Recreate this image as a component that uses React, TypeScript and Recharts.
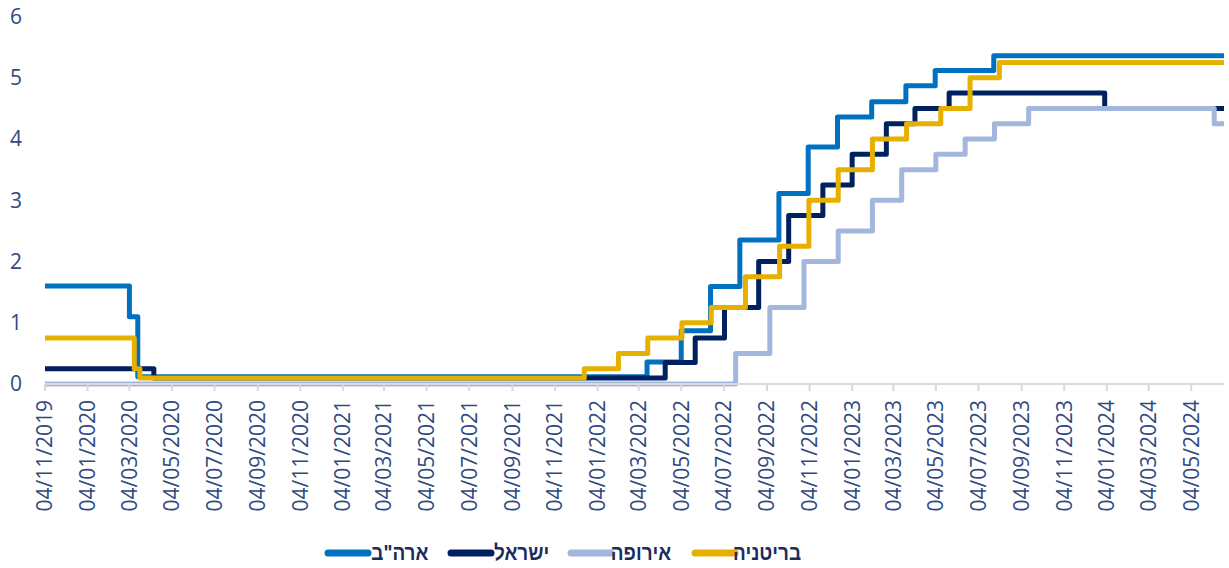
import { LineChart, Line, XAxis, YAxis, Legend } from "recharts";

// dd/mm tick dates, every two months
const tickDates = [
  "2019-11-04", "2020-01-04", "2020-03-04", "2020-05-04", "2020-07-04", "2020-09-04", "2020-11-04",
  "2021-01-04", "2021-03-04", "2021-05-04", "2021-07-04", "2021-09-04", "2021-11-04",
  "2022-01-04", "2022-03-04", "2022-05-04", "2022-07-04", "2022-09-04", "2022-11-04",
  "2023-01-04", "2023-03-04", "2023-05-04", "2023-07-04", "2023-09-04", "2023-11-04",
  "2024-01-04", "2024-03-04", "2024-05-04",
];
const startDate = "2019-11-04";
const endDate = "2024-06-20";
const yTicks = [0, 1, 2, 3, 4, 5, 6];

// US
const usDates = [
  "2019-11-04", "2020-03-04", "2020-03-16", "2022-03-16", "2022-05-04", "2022-06-15", "2022-07-27",
  "2022-09-21", "2022-11-02", "2022-12-14", "2023-02-01", "2023-03-22", "2023-05-03", "2023-07-26", "2024-06-20",
];
const usRates = [1.6, 1.1, 0.12, 0.36, 0.87, 1.59, 2.35, 3.11, 3.87, 4.36, 4.61, 4.87, 5.12, 5.36, 5.36];

// Israel
const ilDates = [
  "2019-11-04", "2020-04-08", "2022-04-11", "2022-05-24", "2022-07-05", "2022-08-23", "2022-10-05",
  "2022-11-23", "2023-01-04", "2023-02-22", "2023-04-04", "2023-05-23", "2024-01-01", "2024-06-20",
];
const ilRates = [0.25, 0.1, 0.35, 0.75, 1.25, 2.0, 2.75, 3.25, 3.75, 4.25, 4.5, 4.75, 4.5, 4.5];

// Europe
const euDates = [
  "2019-11-04", "2022-07-21", "2022-09-08", "2022-10-27", "2022-12-15", "2023-02-02", "2023-03-16",
  "2023-05-04", "2023-06-15", "2023-07-27", "2023-09-14", "2024-06-06", "2024-06-20",
];
const euRates = [0, 0.5, 1.25, 2.0, 2.5, 3.0, 3.5, 3.75, 4.0, 4.25, 4.5, 4.25, 4.25];

// UK
const ukDates = [
  "2019-11-04", "2020-03-11", "2020-03-19", "2021-12-16", "2022-02-03", "2022-03-17", "2022-05-05",
  "2022-06-16", "2022-08-04", "2022-09-22", "2022-11-03", "2022-12-15", "2023-02-02", "2023-03-23",
  "2023-05-11", "2023-06-22", "2023-08-03", "2024-06-20",
];
const ukRates = [0.75, 0.25, 0.1, 0.25, 0.5, 0.75, 1.0, 1.25, 1.75, 2.25, 3.0, 3.5, 4.0, 4.25, 4.5, 5.0, 5.25, 5.25];

const toTime = (s: string) => {
  const [y, m, d] = s.split("-").map(Number);
  return Date.UTC(y, m - 1, d);
};

const fmtDate = (t: number) => {
  const d = new Date(t);
  const dd = String(d.getUTCDate()).padStart(2, "0");
  const mm = String(d.getUTCMonth() + 1).padStart(2, "0");
  return `${dd}/${mm}/${d.getUTCFullYear()}`;
};

const toSeries = (dates: string[], rates: number[]) =>
  dates.map((d, i) => ({ t: toTime(d), v: rates[i] }));

// legend slot: x of line start and right edge of label
const series = [
  { name: 'ארה"ב', color: "#0070c0", data: toSeries(usDates, usRates), lineX: 325, textEnd: 428 },
  { name: "ישראל", color: "#002060", data: toSeries(ilDates, ilRates), lineX: 448, textEnd: 549 },
  { name: "אירופה", color: "#a3b6dc", data: toSeries(euDates, euRates), lineX: 568, textEnd: 671 },
  { name: "בריטניה", color: "#e6b000", data: toSeries(ukDates, ukRates), lineX: 692, textEnd: 801 },
];

const labelColor = "#2f4a80";
const axisFont = "'Open Sans', sans-serif";

const DateTick = ({ x, y, payload }: any) => (
  <text
    x={x}
    y={y}
    dy="0.35em"
    transform={`rotate(-90, ${x}, ${y})`}
    textAnchor="end"
    fill={labelColor}
    fontSize={21}
    fontFamily={axisFont}
  >
    {fmtDate(payload.value)}
  </text>
);

const ValueTick = ({ x, y, payload }: any) => (
  <text x={x} y={y} dy="0.35em" textAnchor="end" fill={labelColor} fontSize={21} fontFamily={axisFont}>
    {payload.value}
  </text>
);

const renderLegend = () => (
  <div style={{ position: "relative", height: 30, width: 1224 }}>
    {series.map((s) => (
      <div key={s.name}>
        <svg width={48} height={10} style={{ position: "absolute", left: s.lineX - 1, top: 10 }}>
          <line x1={4} y1={5} x2={44} y2={5} stroke={s.color} strokeWidth={7} strokeLinecap="round" />
        </svg>
        <span
          style={{
            position: "absolute",
            right: 1224 - s.textEnd,
            top: 0,
            fontFamily: "'Liberation Sans', Arial, sans-serif",
            fontWeight: 700,
            fontSize: 22,
            color: "#1c2c5e",
            lineHeight: "30px",
            whiteSpace: "nowrap",
            transform: "scaleX(0.86)",
            transformOrigin: "right center",
          }}
        >
          {s.name}
        </span>
      </div>
    ))}
  </div>
);

export default function App() {
  return (
    <div style={{ position: "absolute", left: 0, top: 0, width: 1229, height: 568, background: "#fff" }}>
      <LineChart width={1229} height={568} margin={{ top: 16.5, right: 5, bottom: 0, left: 0 }}>
        <XAxis
          dataKey="t"
          type="number"
          domain={[toTime(startDate), toTime(endDate)]}
          ticks={tickDates.map(toTime)}
          interval={0}
          height={154}
          tickSize={7}
          tickMargin={9}
          axisLine={{ stroke: "#d9d9d9", strokeWidth: 2 }}
          tickLine={{ stroke: "#d9d9d9", strokeWidth: 2 }}
          tick={<DateTick />}
          allowDataOverflow
        />
        <YAxis
          type="number"
          domain={[0, 6]}
          ticks={yTicks}
          interval={0}
          width={45}
          axisLine={false}
          tickLine={false}
          tickMargin={17}
          tick={<ValueTick />}
        />
        <Legend verticalAlign="bottom" align="left" content={renderLegend} />
        {series.map((s) => (
          <Line
            key={s.name}
            data={s.data}
            dataKey="v"
            name={s.name}
            type="stepAfter"
            stroke={s.color}
            strokeWidth={5}
            strokeLinejoin="round"
            strokeLinecap="round"
            dot={false}
            activeDot={false}
            isAnimationActive={false}
          />
        ))}
      </LineChart>
    </div>
  );
}
